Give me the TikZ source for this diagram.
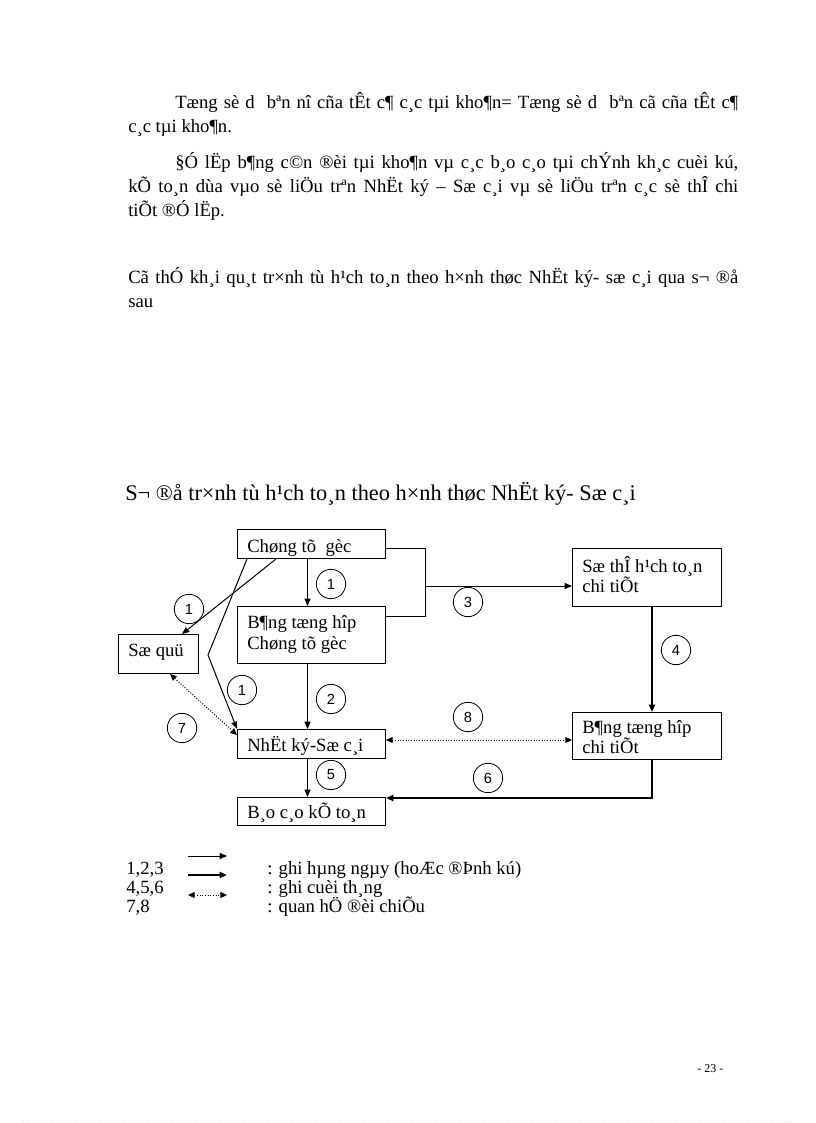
\documentclass[tikz,border=0pt]{standalone}
\usepackage{fontspec}
\setmainfont{Liberation Serif}
\newfontfamily\numfont{Liberation Sans}
\usetikzlibrary{arrows.meta,calc}
\newcommand\mybody{\fontsize{14pt}{17pt}\selectfont}
\newcommand\mytitle{\fontsize{16.75pt}{20pt}\selectfont}
\newcommand\mygap{\hspace{0.33em}}
\begin{document}
\begin{tikzpicture}[x=0.75pt,y=-0.75pt,
  txt/.style={anchor=base west, inner sep=0pt, font=\mybody},
  box/.style={draw, line width=0.75pt, inner sep=0pt, anchor=north west},
  num/.style={draw, circle, line width=0.6pt, minimum size=22pt, inner sep=0pt, font=\numfont\fontsize{11pt}{13pt}\selectfont},
  line/.style={line width=0.75pt},
  arr/.style={line width=0.75pt, -{Triangle[length=5.5pt,width=4.5pt]}},
  tarr/.style={line width=1.5pt, -{Triangle[length=5.5pt,width=4.5pt]}},
  dotarr/.style={line width=0.75pt, dash pattern=on 0.75pt off 1.25pt, {Triangle[length=5pt,width=4.5pt]}-{Triangle[length=5pt,width=4.5pt]}}
]
\useasboundingbox[fill=white] (0,0) rectangle (816,1123);

% ---------- body text ----------
\node[txt] (p1a) at (175,109) {\makebox[422.25pt][s]{Tæng sè d\mygap{} bªn nî cña tÊt c¶ c¸c tµi kho¶n= Tæng sè d\mygap{} bªn cã cña tÊt c¶}};
\node[txt] (p1b) at (128,133) {c¸c tµi kho¶n.};
\node[txt] (p2a) at (175,169) {\makebox[422.25pt][s]{§Ó lËp b¶ng c©n ®èi tµi kho¶n vµ c¸c b¸o c¸o tµi chÝnh kh¸c cuèi kú,}};
\node[txt] (p2b) at (128,193) {\makebox[457.5pt][s]{kÕ to¸n dùa vµo sè liÖu trªn NhËt ký – Sæ c¸i vµ sè liÖu trªn c¸c sè thÎ chi}};
\node[txt] (p2c) at (128,217) {tiÕt ®Ó lËp.};
\node[txt] (p3a) at (128,283) {\makebox[457.5pt][s]{Cã thÓ kh¸i qu¸t tr×nh tù h¹ch to¸n theo h×nh thøc NhËt ký- sæ c¸i qua s¬ ®å}};
\node[txt] (p3b) at (128,307) {sau};

\node[txt, font=\mytitle] (title) at (125,500) {S¬ ®å tr×nh tù h¹ch to¸n theo h×nh thøc NhËt ký- Sæ c¸i};

% ---------- boxes ----------
\node[box, minimum width=111pt, minimum height=21.75pt] (ctg) at (237,529) {};
\node[box, minimum width=111pt, minimum height=42.75pt] (bth) at (237,606) {};
\node[box, minimum width=60pt, minimum height=29.25pt] (squy) at (118,634) {};
\node[box, minimum width=111.75pt, minimum height=43.5pt] (sthe) at (572,548) {};
\node[box, minimum width=111.75pt, minimum height=35.25pt] (bthct) at (572,712) {};
\node[box, minimum width=111pt, minimum height=21.75pt] (nkc) at (237,729) {};
\node[box, minimum width=111pt, minimum height=21pt] (bcao) at (237,797) {};

% box texts
\node[txt] (tctg) at (247,552) {Chøng tõ\ \ gèc};
\node[txt] (tbth1) at (247,628) {B¶ng tæng hîp};
\node[txt] (tbth2) at (247,649) {Chøng tõ gèc};
\node[txt] (tsquy) at (128,656) {Sæ quü};
\node[txt] (tsthe1) at (582,572) {Sæ thÎ h¹ch to¸n};
\node[txt] (tsthe2) at (582,592) {chi tiÕt};
\node[txt] (tbthct1) at (582,733) {B¶ng tæng hîp};
\node[txt] (tbthct2) at (582,753) {chi tiÕt};
\node[txt] (tnkc) at (247,751) {NhËt ký-Sæ c¸i};
\node[txt] (tbcao) at (247,818) {B¸o c¸o kÕ to¸n};

% ---------- connectors ----------
\draw[arr] ([xshift=-3pt]ctg.south) -- ([xshift=-3pt]bth.north);
\draw[arr] ([xshift=-3pt]bth.south) -- ([xshift=-3pt]nkc.north);
\draw[arr] ([xshift=-3pt]nkc.south) -- ([xshift=-3pt]bcao.north);
\draw[arr] ([xshift=29.25pt]ctg.south west) -- ([xshift=48pt]squy.north west);
\coordinate (kink) at (208,655);
\draw[arr] ([xshift=7.5pt]ctg.south west) -- (kink) -- (nkc.north west);
\draw[dotarr] ([xshift=39pt]squy.south west) -- ([yshift=-4.5pt]nkc.north west);

\coordinate (k1) at (425,548);
\coordinate (k2) at (425,616);
\coordinate (k3) at (425,586);
\draw[line] (ctg.east |- k1) -- (k1) -- (k2) -- (bth.east |- k2);
\draw[arr] (k3) -- (k3 -| sthe.west);

\coordinate (k4) at (652,0);
\draw[tarr] (sthe.south -| k4) -- (bthct.north -| k4);
\coordinate (k6) at (652,798);
\draw[tarr] (bthct.south -| k6) -- (k6) -- (k6 -| bcao.east);
\coordinate (k8) at (0,740);
\draw[dotarr] (nkc.east |- k8) -- (bthct.west |- k8);

% ---------- circled numbers ----------
\node[num] (c1a) at (331,584) {1};
\node[num] (c1b) at (189,609) {1};
\node[num] (c1c) at (242,690) {1};
\node[num] (c2) at (331,699) {2};
\node[num] (c3) at (468,602) {3};
\node[num] (c4) at (676,650) {4};
\node[num] (c5) at (331,775) {5};
\node[num] (c6) at (488,778) {6};
\node[num] (c7) at (182,728) {7};
\node[num] (c8) at (468,717) {8};

% ---------- legend ----------
\coordinate (l1a) at (188,856); \coordinate (l1b) at (227,856);
\coordinate (l2a) at (188,875); \coordinate (l2b) at (227,875);
\coordinate (l3a) at (188,895); \coordinate (l3b) at (227,895);
\draw[arr] (l1a) -- (l1b);
\draw[tarr] (l2a) -- (l2b);
\draw[dotarr] (l3a) -- (l3b);
\node[txt] (g1) at (126,874) {1,2,3};
\node[txt] (g2) at (126,893) {4,5,6};
\node[txt] (g3) at (126,912) {7,8};
\node[txt] (h1) at (267,874) {: ghi hµng ngµy (hoÆc ®Þnh kú)};
\node[txt] (h2) at (267,893) {: ghi cuèi th¸ng};
\node[txt] (h3) at (267,912) {: quan hÖ ®èi chiÕu};

% ---------- footer ----------
\node[txt, font=\fontsize{9pt}{11pt}\selectfont] (pg) at (697,1072) {- 23 -};
\coordinate (f1) at (23,1121); \coordinate (f2) at (790,1121);
\draw[gray!35, line width=0.5pt, dash pattern=on 0.75pt off 1.5pt] (f1) -- (f2);
\end{tikzpicture}
\end{document}
